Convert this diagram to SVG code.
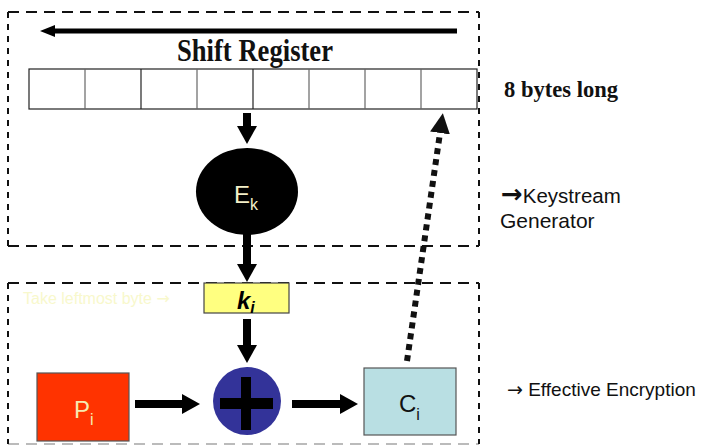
<svg xmlns="http://www.w3.org/2000/svg" width="703" height="446" viewBox="0 0 703 446">
  <style>
    .frame { stroke: #111; stroke-width: 2; fill: none; }
    .hdash { stroke-dasharray: 11 7; }
    .vdash { stroke-dasharray: 6 6; }
    .cell { fill: #fff; stroke: #222; stroke-width: 1.2; }
    .sep { stroke: #666; stroke-width: 1.2; }
    .serif { font-family: "Liberation Serif", "Times New Roman", serif; font-weight: bold; fill: #111; }
    .sans { font-family: "Liberation Sans", Arial, sans-serif; }
    .arrow { font-family: "DejaVu Sans", sans-serif; }
    .flow { stroke: #000; stroke-width: 8; fill: none; }
  </style>
  <defs>
    <marker id="head" viewBox="0 -10 18 20" refX="0" refY="0" markerWidth="18" markerHeight="20" markerUnits="userSpaceOnUse" orient="auto">
      <path d="M0,-10 L18,0 L0,10 z" fill="#000"/>
    </marker>
    <marker id="headSmall" viewBox="0 -6 15 12" refX="0" refY="0" markerWidth="15" markerHeight="12" markerUnits="userSpaceOnUse" orient="auto">
      <path d="M0,-6 L15,0 L0,6 z" fill="#000"/>
    </marker>
    <marker id="headDot" viewBox="0 -10 20 20" refX="0" refY="0" markerWidth="20" markerHeight="20" markerUnits="userSpaceOnUse" orient="auto">
      <path d="M0,-10 L20,0 L0,10 z" fill="#111"/>
    </marker>
  </defs>

  <rect width="703" height="446" fill="#fff"/>

  <!-- keystream generator frame -->
  <g id="keystream-frame">
    <line class="frame hdash" x1="8" y1="12" x2="479" y2="12"/>
    <line class="frame hdash" x1="8" y1="246" x2="479" y2="246"/>
    <line class="frame vdash" x1="8" y1="12" x2="8" y2="246"/>
    <line class="frame vdash" x1="479" y1="12" x2="479" y2="246"/>
  </g>

  <!-- encryption frame -->
  <g id="encryption-frame">
    <line class="frame hdash" x1="8" y1="283" x2="479" y2="283"/>
    <line class="frame hdash" x1="8" y1="444" x2="479" y2="444" style="stroke:#bbb"/>
    <line class="frame vdash" x1="8" y1="283" x2="8" y2="444"/>
    <line class="frame vdash" x1="479" y1="283" x2="479" y2="444"/>
  </g>

  <!-- shift register -->
  <g id="shift-register">
    <rect class="cell" x="29" y="69" width="448" height="40"/>
    <line class="sep" x1="85" y1="69" x2="85" y2="109"/>
    <line class="sep" x1="141" y1="69" x2="141" y2="109" style="stroke:#222"/>
    <line class="sep" x1="197" y1="69" x2="197" y2="109"/>
    <line class="sep" x1="253" y1="69" x2="253" y2="109" style="stroke:#222"/>
    <line class="sep" x1="309" y1="69" x2="309" y2="109"/>
    <line class="sep" x1="365" y1="69" x2="365" y2="109"/>
    <line class="sep" x1="421" y1="69" x2="421" y2="109"/>
    <text class="serif" x="177" y="61" font-size="31" textLength="156" lengthAdjust="spacingAndGlyphs">Shift Register</text>
  </g>

  <g id="register-length">
    <text class="serif" x="504" y="97" font-size="23" textLength="114" lengthAdjust="spacingAndGlyphs">8 bytes long</text>
  </g>

  <!-- block cipher -->
  <g id="cipher">
    <ellipse cx="247" cy="191.5" rx="51" ry="43.5" fill="#000"/>
    <text class="sans" x="234" y="203" font-size="24" fill="#f3efc8">E<tspan font-size="16" dy="7">k</tspan></text>
  </g>

  <g id="keystream-label">
    <text class="sans" x="501" y="203" font-size="20.5" fill="#111"><tspan class="arrow" font-weight="bold" font-size="26">→</tspan>Keystream</text>
    <text class="sans" x="500" y="228" font-size="21" fill="#111">Generator</text>
  </g>

  <!-- keystream byte -->
  <g id="key-byte">
    <text class="sans" x="23" y="304" font-size="16" fill="#f8f8cc">Take leftmost byte <tspan class="arrow">→</tspan></text>
    <rect x="204" y="283" width="85" height="30" fill="#ffff80" stroke="#444" stroke-width="1.2"/>
    <text class="sans" x="237" y="309" font-size="24" font-weight="bold" font-style="italic" fill="#000">k<tspan font-size="16" dy="4">i</tspan></text>
  </g>

  <!-- plaintext -->
  <g id="plaintext">
    <rect x="37" y="373" width="92" height="68" fill="#ff3300" stroke="#555" stroke-width="1.2"/>
    <text class="sans" x="74" y="418" font-size="24" fill="#f6eab0">P<tspan font-size="16" dy="7">i</tspan></text>
  </g>

  <!-- xor -->
  <g id="xor">
    <circle cx="247" cy="401" r="34" fill="#333399"/>
    <rect x="220" y="398" width="53" height="11" fill="#000"/>
    <rect x="241" y="377" width="10" height="53" fill="#000"/>
  </g>

  <!-- ciphertext -->
  <g id="ciphertext">
    <rect x="364" y="368" width="92" height="67" fill="#b9dfe3" stroke="#555" stroke-width="1.2"/>
    <text class="sans" x="399" y="412" font-size="24" fill="#111">C<tspan font-size="16" dy="8">i</tspan></text>
  </g>

  <g id="encryption-label">
    <text class="sans" x="507" y="396" font-size="19" fill="#111"><tspan class="arrow" font-size="19">→</tspan> Effective Encryption</text>
  </g>

  <!-- connectors -->
  <g id="connectors">
    <line x1="457" y1="31" x2="55" y2="31" stroke="#000" stroke-width="5" marker-end="url(#headSmall)"/>
    <line class="flow" x1="247" y1="113" x2="247" y2="126" stroke-width="7" marker-end="url(#head)"/>
    <line class="flow" x1="247" y1="234" x2="247" y2="264" marker-end="url(#head)"/>
    <line class="flow" x1="247" y1="319" x2="247" y2="345" marker-end="url(#head)"/>
    <line class="flow" x1="135" y1="404" x2="182" y2="404" stroke-width="7" marker-end="url(#head)"/>
    <line class="flow" x1="292" y1="404" x2="340" y2="404" stroke-width="7" marker-end="url(#head)"/>
    <line x1="407" y1="361" x2="440" y2="133" stroke="#111" stroke-width="6" stroke-dasharray="6 5" marker-end="url(#headDot)"/>
  </g>
</svg>
